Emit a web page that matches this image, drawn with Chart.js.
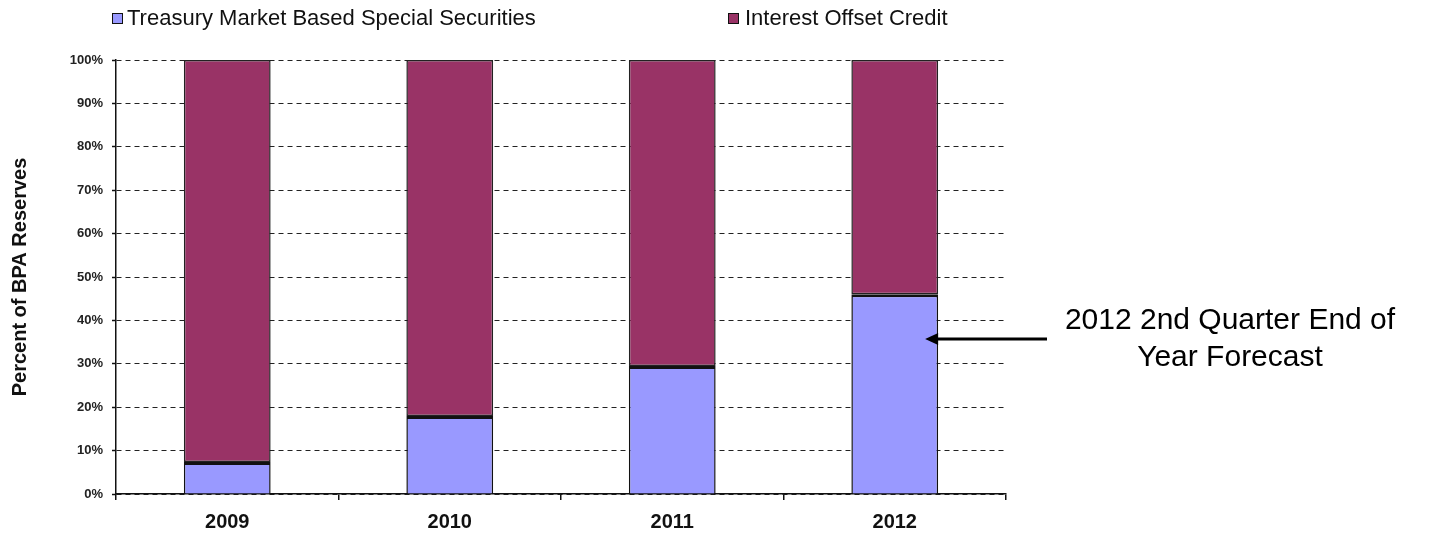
<!DOCTYPE html>
<html>
<head>
<meta charset="utf-8">
<script src="https://cdn.jsdelivr.net/npm/chart.js@4/dist/chart.umd.min.js"></script>
<style>
  body { margin: 0; background: #fff; }
  #wrap { position: relative; width: 1430px; height: 533px; font-family: "Liberation Sans", Arial, sans-serif; }
  .leg { position: absolute; top: 6px; font-size: 22px; color: #111; line-height: 24px; white-space: nowrap; }
  .leg i { position: absolute; top: 7px; width: 9px; height: 9px; border: 1px solid #111; }
  #note { position: absolute; left: 1030px; width: 400px; top: 300px; text-align: center; font-size: 30px; line-height: 37px; color: #000; }
</style>
</head>
<body>
<div id="wrap">
  <canvas id="chart" width="1430" height="533"></canvas>
  <div class="leg" style="left:112px"><i style="left:0;background:#9999FF"></i><span style="margin-left:15px">Treasury Market Based Special Securities</span></div>
  <div class="leg" style="left:728px"><i style="left:0;background:#993366"></i><span style="margin-left:17px">Interest Offset Credit</span></div>
  <div id="note">2012 2nd Quarter End of<br>Year Forecast</div>
</div>
<script>
// data
const years = ["2009", "2010", "2011", "2012"];
const treasury = [7.4, 18, 29.5, 46];
const offset = [92.6, 82, 70.5, 54];
const yTicks = [0, 10, 20, 30, 40, 50, 60, 70, 80, 90, 100];

const ctx = document.getElementById("chart");

// arrow from the note to the 2012 bar
const arrowPlugin = {
    id: "arrow",
    afterDatasetsDraw(chart) {
        const bar = chart.getDatasetMeta(0).data[3];
        const tip = bar.x + bar.width / 2 - 13;
        const y = 339;
        const c = chart.ctx;
        c.save();
        c.strokeStyle = "#000";
        c.fillStyle = "#000";
        c.lineWidth = 3;
        c.beginPath();
        c.moveTo(1047, y);
        c.lineTo(tip + 10, y);
        c.stroke();
        c.beginPath();
        c.moveTo(tip, y);
        c.lineTo(tip + 13, y - 6);
        c.lineTo(tip + 13, y + 6);
        c.closePath();
        c.fill();
        c.restore();
    }
};

var Graph = new Chart(ctx, {
    type: "bar",
    data: {
        labels: years,
        datasets: [
            {
                label: "Treasury Market Based Special Securities",
                data: treasury,
                backgroundColor: "#9999FF",
                borderColor: "#111",
                borderWidth: { top: 3, left: 1.5, right: 1.5, bottom: 0 },
                borderSkipped: false
            },
            {
                label: "Interest Offset Credit",
                data: offset,
                backgroundColor: "#993366",
                borderColor: "#222",
                borderWidth: 1.5,
                borderSkipped: false
            }
        ]
    },
    options: {
        responsive: false,
        animation: false,
        layout: { padding: { left: 4, right: 424, top: 60, bottom: 0 } },
        plugins: { legend: { display: false }, tooltip: { enabled: false } },
        datasets: { bar: { categoryPercentage: 0.39, barPercentage: 1 } },
        scales: {
            x: {
                stacked: true,
                afterFit(scale) { scale.height = 39; },
                grid: { drawOnChartArea: false, drawTicks: true, tickLength: 6, color: "#111", lineWidth: 1.5, offset: true },
                border: { color: "#111", width: 1.5 },
                ticks: { color: "#111", padding: 10, font: { family: "Liberation Sans", size: 20, weight: "bold" } }
            },
            y: {
                stacked: true,
                min: 0,
                max: 100,
                afterFit(scale) { scale.width = 112; },
                afterBuildTicks(scale) { scale.ticks = yTicks.map(v => ({ value: v })); },
                grid: { color: "#222", lineWidth: 1, tickLength: 4, tickColor: "#111", tickWidth: 1.5, tickBorderDash: [] },
                border: { color: "#111", width: 1.5, dash: [5, 4] },
                ticks: {
                    color: "#222",
                    padding: 9,
                    font: { family: "Liberation Sans", size: 13, weight: "bold" },
                    callback: v => v + "%"
                },
                title: {
                    display: true,
                    text: "Percent of BPA Reserves",
                    color: "#111",
                    font: { family: "Liberation Sans", size: 20, weight: "bold" }
                }
            }
        }
    },
    plugins: [arrowPlugin]
});
</script>
</body>
</html>
